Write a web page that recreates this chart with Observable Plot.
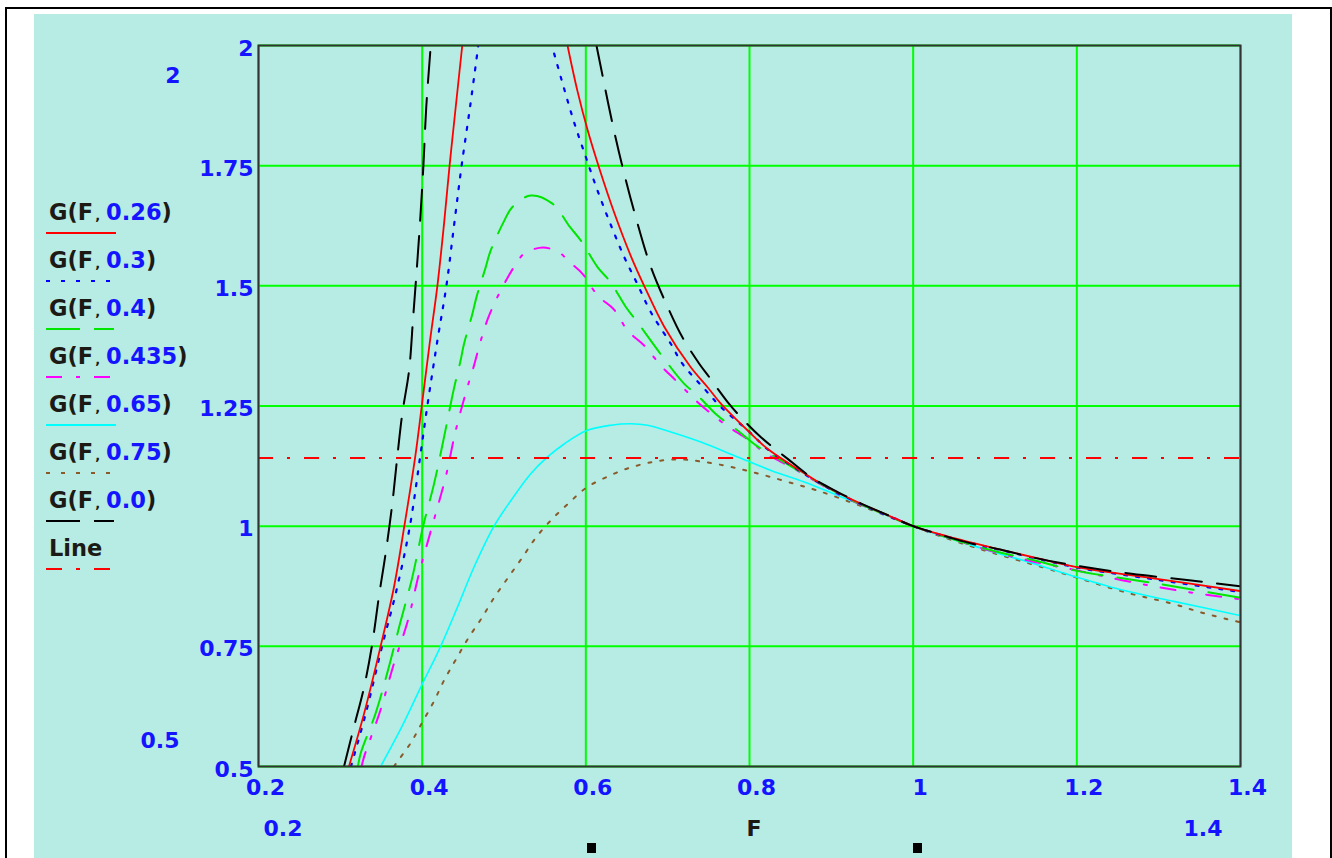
<!DOCTYPE html>
<html>
<head>
<meta charset="utf-8">
<script src="https://cdn.jsdelivr.net/npm/d3@7"></script>
<script src="https://cdn.jsdelivr.net/npm/@observablehq/plot@0.6"></script>
<style>
  html, body { margin: 0; padding: 0; background: #ffffff; width: 1332px; height: 858px; overflow: hidden; }
  body { position: relative; font-family: "DejaVu Sans", Verdana, sans-serif; font-weight: bold; }
  #outer { position: absolute; left: 5px; top: 7px; width: 1323px; height: 851px; border: 2px solid #000; border-bottom: none; }
  #panel { position: absolute; left: 34px; top: 14px; width: 1258px; height: 844px; background: #b7ece4; }
  #chart { position: absolute; left: 0; top: 0; }
  .lbl { position: absolute; font-size: 22px; color: #1414ff; line-height: 1; white-space: nowrap; }
  .blk { color: #1c1a14; }
  .sq { position: absolute; width: 9px; height: 10px; background: #000; }
  #legend { position: absolute; left: 0; top: 0; }
</style>
</head>
<body>
<div id="outer"></div>
<div id="panel"></div>
<div id="chart"></div>
<div id="legend"></div>
<script>
// ---------- data ----------
const xTicks = [0.2, 0.4, 0.6, 0.8, 1, 1.2, 1.4];
const xTickLabels = ["0.2", "0.4", "0.6", "0.8", "1", "1.2", "1.4"];
const yTicks = [0.5, 0.75, 1, 1.25, 1.5, 1.75, 2];
const yTickLabels = ["0.5", "0.75", "1", "1.25", "1.5", "1.75", "2"];

const seriesNames = ["G(F, 0.26)", "G(F, 0.3)", "G(F, 0.4)", "G(F, 0.435)", "G(F, 0.65)", "G(F, 0.75)", "G(F, 0.0)", "Line"];
const seriesQ = ["0.26", "0.3", "0.4", "0.435", "0.65", "0.75", "0.0"];

// G(F, 0.0) — two branches around the pole
const g00Left = [[0.3045,0.5],[0.3166,0.582],[0.329,0.665],[0.339,0.755],[0.347,0.852],[0.3553,0.943],[0.3635,1.047],[0.3696,1.144],[0.3757,1.234],[0.384,1.324],[0.389,1.435],[0.393,1.525],[0.397,1.622],[0.4015,1.75],[0.405,1.872],[0.4105,2.0]];
const g00Right = [[0.613,2.0],[0.620,1.941],[0.6326,1.837],[0.6449,1.747],[0.661,1.643],[0.6795,1.539],[0.700,1.456],[0.718,1.393],[0.7386,1.338],[0.7508,1.31],[0.7733,1.258],[0.7876,1.23],[0.814,1.185],[0.8467,1.14],[0.8752,1.102],[0.9078,1.071],[0.9364,1.047],[0.9649,1.026],[1.0,1.0],[1.03,0.984],[1.071,0.964],[1.1076,0.951],[1.1485,0.934],[1.2015,0.917],[1.2667,0.901],[1.34,0.887],[1.4,0.875]];

// G(F, 0.26)
const g026Left = [[0.3105,0.5],[0.329,0.61],[0.3492,0.75],[0.3655,0.873],[0.3782,1.0],[0.3915,1.144],[0.3995,1.25],[0.4096,1.386],[0.4186,1.5],[0.4267,1.629],[0.4335,1.75],[0.441,1.872],[0.449,2.0]];
const g026Right = [[0.5776,2.0],[0.5898,1.905],[0.602,1.825],[0.6163,1.745],[0.6347,1.652],[0.655,1.562],[0.6713,1.5],[0.6958,1.415],[0.728,1.331],[0.7488,1.289],[0.765,1.255],[0.7978,1.199],[0.822,1.161],[0.855,1.123],[0.88,1.096],[0.91,1.068],[0.94,1.044],[0.97,1.022],[1.0,1.0],[1.05,0.975],[1.1,0.954],[1.15,0.934],[1.2,0.915],[1.3,0.89],[1.4,0.865]];

// G(F, 0.3)
const g03Left = [[0.313,0.5],[0.331,0.61],[0.351,0.75],[0.3695,0.873],[0.385,1.0],[0.3975,1.144],[0.4063,1.25],[0.4186,1.386],[0.4296,1.5],[0.4392,1.629],[0.4482,1.75],[0.4585,1.872],[0.4686,2.0]];
const g03Right = [[0.5613,1.983],[0.5735,1.91],[0.5857,1.84],[0.6,1.768],[0.6143,1.698],[0.630,1.629],[0.6469,1.56],[0.6632,1.503],[0.6795,1.445],[0.704,1.379],[0.718,1.338],[0.7468,1.282],[0.765,1.248],[0.80,1.196],[0.822,1.16],[0.855,1.122],[0.88,1.095],[0.91,1.067],[0.94,1.043],[0.97,1.021],[1.0,1.0],[1.05,0.974],[1.1,0.953],[1.15,0.933],[1.2,0.914],[1.3,0.888],[1.4,0.863]];

// G(F, 0.4)
const g04 = [[0.3215,0.5],[0.3248,0.527],[0.343,0.61],[0.3582,0.70],[0.3729,0.797],[0.388,0.894],[0.4012,1.0],[0.4145,1.088],[0.4267,1.185],[0.4389,1.287],[0.447,1.345],[0.4511,1.379],[0.4614,1.442],[0.4663,1.476],[0.4777,1.539],[0.483,1.57],[0.4993,1.632],[0.5103,1.664],[0.5327,1.688],[0.5592,1.671],[0.5808,1.622],[0.594,1.594],[0.6143,1.539],[0.630,1.508],[0.6489,1.456],[0.6632,1.424],[0.6836,1.376],[0.6958,1.348],[0.7203,1.296],[0.7366,1.272],[0.761,1.23],[0.7855,1.199],[0.808,1.168],[0.8385,1.137],[0.859,1.116],[0.8874,1.088],[0.92,1.058],[0.96,1.028],[1.0,1.0],[1.05,0.972],[1.1,0.948],[1.15,0.928],[1.2,0.907],[1.3,0.88],[1.4,0.851]];

// G(F, 0.435)
const g0435 = [[0.326,0.5],[0.329,0.52],[0.349,0.617],[0.3655,0.714],[0.3826,0.804],[0.3961,0.901],[0.4122,1.0],[0.4287,1.102],[0.441,1.199],[0.4553,1.289],[0.4633,1.334],[0.4716,1.386],[0.4797,1.429],[0.49,1.47],[0.5054,1.52],[0.5176,1.553],[0.5245,1.567],[0.548,1.58],[0.5694,1.567],[0.5776,1.553],[0.596,1.525],[0.6143,1.48],[0.6347,1.45],[0.651,1.407],[0.6713,1.376],[0.6917,1.334],[0.71,1.303],[0.7264,1.275],[0.7366,1.258],[0.769,1.213],[0.80,1.178],[0.82,1.151],[0.8507,1.123],[0.8752,1.099],[0.9078,1.067],[0.94,1.042],[0.973,1.02],[1.0,1.0],[1.05,0.972],[1.1,0.946],[1.15,0.925],[1.2,0.908],[1.257,0.887],[1.324,0.866],[1.4,0.848]];

// G(F, 0.65)
const g065 = [[0.3492,0.5],[0.3758,0.585],[0.4002,0.672],[0.4226,0.75],[0.443,0.831],[0.4634,0.915],[0.4878,1.0],[0.5083,1.053],[0.5327,1.109],[0.5532,1.144],[0.5735,1.171],[0.6012,1.199],[0.6306,1.21],[0.655,1.213],[0.6755,1.21],[0.704,1.196],[0.7407,1.175],[0.7855,1.144],[0.8263,1.116],[0.867,1.092],[0.9078,1.064],[0.9486,1.036],[1.0,1.0],[1.05,0.972],[1.095,0.948],[1.148,0.922],[1.2,0.894],[1.258,0.866],[1.32,0.843],[1.4,0.814]];

// G(F, 0.75)
const g075 = [[0.3655,0.5],[0.3688,0.508],[0.386,0.549],[0.4002,0.592],[0.4145,0.636],[0.4267,0.679],[0.441,0.722],[0.456,0.766],[0.4728,0.809],[0.4878,0.851],[0.5042,0.891],[0.5217,0.933],[0.538,0.974],[0.5572,1.012],[0.5786,1.047],[0.6006,1.08],[0.6263,1.103],[0.6528,1.121],[0.6827,1.134],[0.712,1.139],[0.7386,1.135],[0.77,1.126],[0.7978,1.115],[0.8263,1.102],[0.855,1.088],[0.8813,1.075],[0.912,1.057],[0.9486,1.034],[1.0,1.0],[1.03,0.981],[1.071,0.958],[1.1,0.943],[1.157,0.915],[1.2,0.893],[1.258,0.863],[1.316,0.839],[1.357,0.818],[1.4,0.8]];

// horizontal reference "Line"
const lineLevel = [1.142];

// ---------- styles ----------
const RED = "#ff0000", BLUE = "#0000ff", GREEN = "#00e600", MAGENTA = "#ff00ff", CYAN = "#00ffff", BROWN = "#8a5a2a", BLACK = "#000000";
const TICKBLUE = "#1414ff";
const DASH = "31,15", DOT = "3,9", DASHDOT = "15,14,3,14";

const lineOpts = (stroke, dash, w = 2) => ({x: d => d[0], y: d => d[1], stroke, strokeWidth: w, strokeDasharray: dash, curve: "catmull-rom", clip: true});

const chart = Plot.plot({
  width: 1332,
  height: 858,
  marginLeft: 258,
  marginRight: 92,
  marginTop: 45,
  marginBottom: 92,
  x: {domain: [0.2, 1.4], label: null},
  y: {domain: [0.5, 2], label: null},
  style: {background: "none", fontFamily: "DejaVu Sans, Verdana, sans-serif", fontSize: "22px", fontWeight: "bold", overflow: "visible"},
  marks: [
    Plot.ruleX(xTicks, {stroke: "#00ff00", strokeWidth: 2}),
    Plot.ruleY(yTicks, {stroke: "#00ff00", strokeWidth: 2}),
    Plot.line(g075, lineOpts(BROWN, DOT, 2)),
    Plot.line(g065, lineOpts(CYAN, null, 1.6)),
    Plot.line(g0435, lineOpts(MAGENTA, DASHDOT, 2)),
    Plot.line(g04, lineOpts(GREEN, DASH, 2)),
    Plot.line(g03Left, lineOpts(BLUE, DOT, 2.2)),
    Plot.line(g03Right, lineOpts(BLUE, DOT, 2.2)),
    Plot.line(g026Left, lineOpts(RED, null, 1.8)),
    Plot.line(g026Right, lineOpts(RED, null, 1.8)),
    Plot.line(g00Left, lineOpts(BLACK, DASH, 2)),
    Plot.line(g00Right, lineOpts(BLACK, DASH, 2)),
    Plot.ruleY(lineLevel, {stroke: RED, strokeWidth: 2, strokeDasharray: DASHDOT}),
    Plot.frame({stroke: "#333", strokeWidth: 2}),
    Plot.axisX(xTicks, {tickSize: 0, tickPadding: 13, dx: 7, color: TICKBLUE, fontSize: 22, fontWeight: "bold", label: null, tickFormat: d => xTickLabels[xTicks.indexOf(d)]}),
    Plot.axisY(yTicks, {tickSize: 0, tickPadding: 5, dy: 3, color: TICKBLUE, fontSize: 22, fontWeight: "bold", label: null, tickFormat: d => yTickLabels[yTicks.indexOf(d)]})
  ]
});
document.getElementById("chart").appendChild(chart);

// ---------- legend and Mathcad placeholder labels ----------
const legendStyles = [
  {stroke: RED, dash: null, len: 70},
  {stroke: BLUE, dash: "4,11", len: 70},
  {stroke: GREEN, dash: "34,14", len: 68},
  {stroke: MAGENTA, dash: "16,14,4,14", len: 64},
  {stroke: CYAN, dash: null, len: 70},
  {stroke: BROWN, dash: "4,11", len: 70},
  {stroke: BLACK, dash: "34,14", len: 68},
  {stroke: RED, dash: "16,14,4,14", len: 64}
];
const legend = d3.select("#legend");
const lsvg = legend.append("svg").attr("width", 260).attr("height", 858)
  .style("position", "absolute").style("left", "0px").style("top", "0px")
  .style("font-family", "DejaVu Sans, Verdana, sans-serif").style("font-weight", "bold");
seriesNames.forEach((name, i) => {
  const base = 220 + i * 48;
  const t = lsvg.append("text").attr("x", 49).attr("y", base).attr("font-size", 22.5);
  if (i < seriesQ.length) {
    t.append("tspan").attr("fill", "#1c1a14").text("G(F");
    t.append("tspan").attr("fill", "#1c1a14").attr("font-size", 13).attr("dx", 2).text(",");
    t.append("tspan").attr("fill", TICKBLUE).attr("dx", 6).text(seriesQ[i]);
    t.append("tspan").attr("fill", "#1c1a14").text(")");
  } else {
    t.attr("fill", "#1c1a14").text(name);
  }
  const s = legendStyles[i];
  lsvg.append("line").attr("x1", 46).attr("x2", 46 + s.len).attr("y1", base + 13).attr("y2", base + 13)
    .attr("stroke", s.stroke).attr("stroke-width", 2).attr("stroke-dasharray", s.dash);
});

const extras = [
  {text: "2", cx: 173, cy: 75, cls: "lbl"},
  {text: "0.5", cx: 160, cy: 740, cls: "lbl"},
  {text: "0.2", cx: 283, cy: 828, cls: "lbl"},
  {text: "1.4", cx: 1203, cy: 828, cls: "lbl"},
  {text: "F", cx: 754, cy: 828, cls: "lbl blk"}
];
extras.forEach(e => {
  const d = document.createElement("div");
  d.className = e.cls;
  d.textContent = e.text;
  d.style.left = "0px"; d.style.top = "0px";
  document.body.appendChild(d);
  const r = d.getBoundingClientRect();
  d.style.left = (e.cx - r.width / 2) + "px";
  d.style.top = (e.cy - r.height / 2 + 1) + "px";
});
[587, 913].forEach(x => {
  const q = document.createElement("div");
  q.className = "sq";
  q.style.left = x + "px";
  q.style.top = "843px";
  document.body.appendChild(q);
});
</script>
</body>
</html>
